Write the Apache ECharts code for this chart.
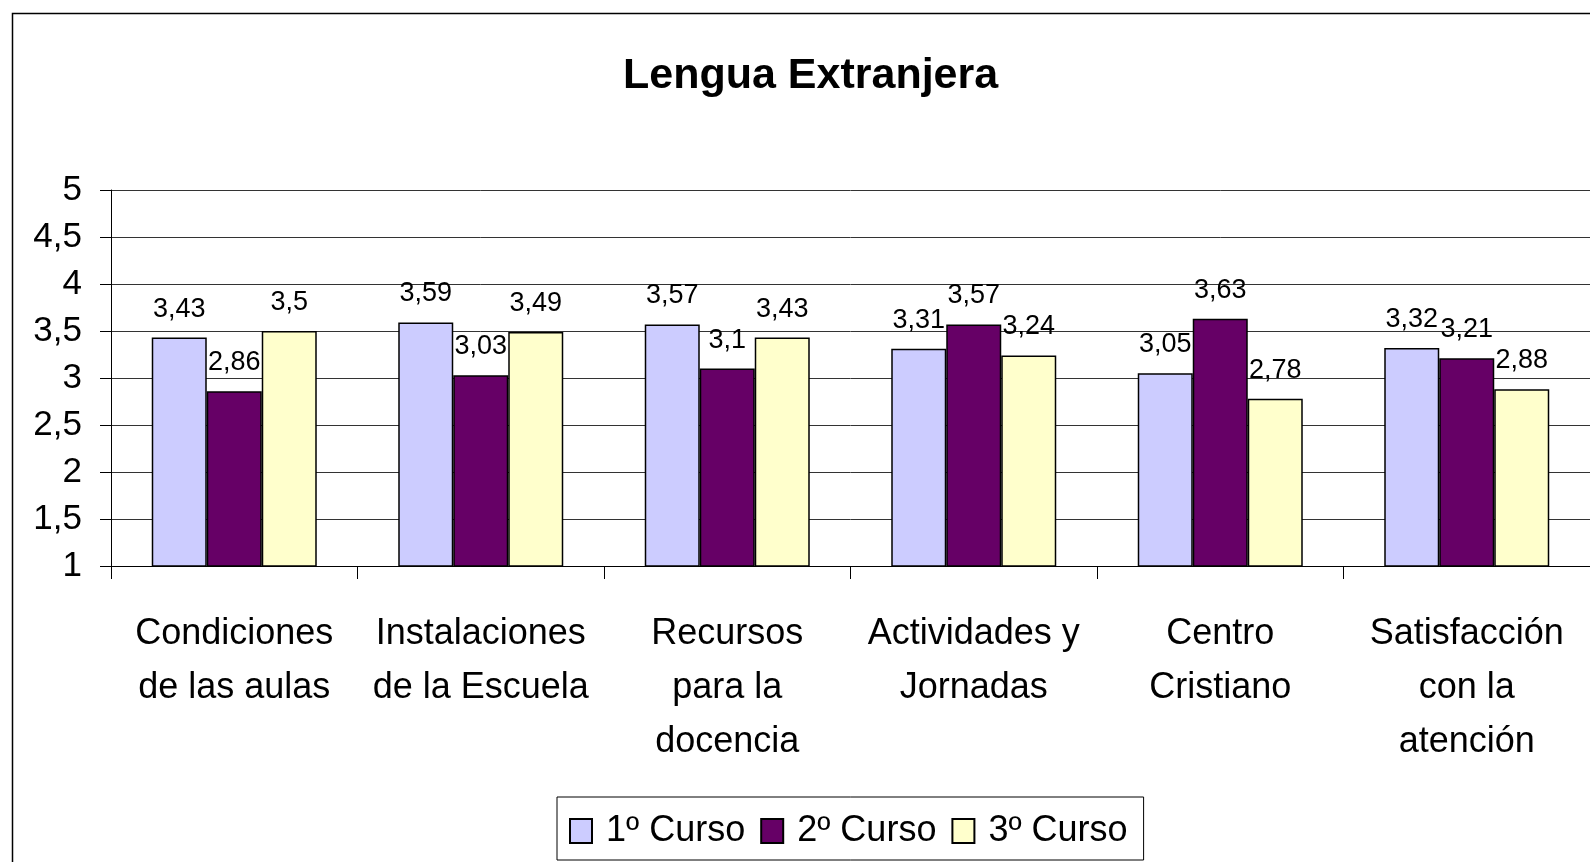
<!DOCTYPE html>
<html lang="es" style="height: 100%">
<head>
    <meta charset="utf-8">
    <title>Lengua Extranjera</title>
    <script src="https://cdn.jsdelivr.net/npm/echarts@6/dist/echarts.min.js"></script>
</head>
<body style="height: 100%; margin: 0; background: #fff">
<div id="main" style="width:1590px;height:862px"></div>
<script type="text/javascript">
    // categorias y valores
    var categorias = [
        'Condiciones\nde las aulas',
        'Instalaciones\nde la Escuela',
        'Recursos\npara la\ndocencia',
        'Actividades y\nJornadas',
        'Centro\nCristiano',
        'Satisfacción\ncon la\natención'
    ];
    var curso1 = [3.43, 3.59, 3.57, 3.31, 3.05, 3.32];
    var curso2 = [2.86, 3.03, 3.1, 3.57, 3.63, 3.21];
    var curso3 = [3.5, 3.49, 3.43, 3.24, 2.78, 2.88];
    var nombres = ['1º Curso', '2º Curso', '3º Curso'];
    var colores = ['#CCCCFF', '#660066', '#FFFFCC'];

    var fuente = 'Liberation Sans, Arial, sans-serif';

    function coma(v) {
        return String(v).replace('.', ',');
    }

    var datos = [curso1, curso2, curso3];
    var series = [];
    for (var i = 0; i < datos.length; i++) {
        series.push({
            name: nombres[i],
            type: 'bar',
            data: datos[i],
            barWidth: 55,
            barGap: '0%',
            itemStyle: {
                color: colores[i],
                borderColor: '#000',
                borderWidth: 1.5
            },
            label: {
                show: true,
                position: 'top',
                distance: 15,
                color: '#000',
                fontFamily: fuente,
                fontSize: 27,
                formatter: function (p) { return coma(p.value); }
            }
        });
    }

    var chart = echarts.init(document.getElementById('main'));
    var option = {
        backgroundColor: '#fff',
        animation: false,
        graphic: [{
            type: 'rect',
            left: 10,
            top: 11,
            shape: {width: 1600, height: 900},
            style: {fill: 'none', stroke: '#000', lineWidth: 1.5},
            silent: true
        }],
        title: {
            text: 'Lengua Extranjera',
            left: 623,
            top: 55,
            padding: 0,
            textStyle: {
                fontFamily: fuente,
                fontSize: 43,
                fontWeight: 'bold',
                color: '#000'
            }
        },
        legend: {
            left: 557,
            top: 797,
            padding: [14, 16, 9, 12],
            borderColor: '#000',
            borderWidth: 1,
            itemWidth: 22,
            itemHeight: 24,
            itemGap: 15,
            icon: 'rect',
            textStyle: {
                fontFamily: fuente,
                fontSize: 36,
                lineHeight: 40,
                color: '#000',
                padding: [0, 0, 0, 9]
            }
        },
        grid: {
            left: 111,
            top: 190,
            width: 1482,
            bottom: 296
        },
        xAxis: {
            type: 'category',
            data: categorias,
            axisLine: {lineStyle: {color: '#000', width: 1}},
            axisTick: {show: true, length: 13, lineStyle: {color: '#000'}},
            axisLabel: {
                interval: 0,
                margin: 41,
                fontFamily: fuente,
                fontSize: 36,
                lineHeight: 54,
                color: '#000'
            }
        },
        yAxis: {
            type: 'value',
            min: 1,
            max: 5,
            interval: 0.5,
            axisLine: {show: true, lineStyle: {color: '#000', width: 1}},
            axisTick: {show: true, length: 11, lineStyle: {color: '#000'}},
            splitLine: {lineStyle: {color: '#333', width: 1}},
            axisLabel: {
                margin: 29,
                fontFamily: fuente,
                fontSize: 35,
                color: '#000',
                formatter: function (v) { return coma(v); }
            }
        },
        series: series
    };
    chart.setOption(option);
</script>
</body>
</html>
